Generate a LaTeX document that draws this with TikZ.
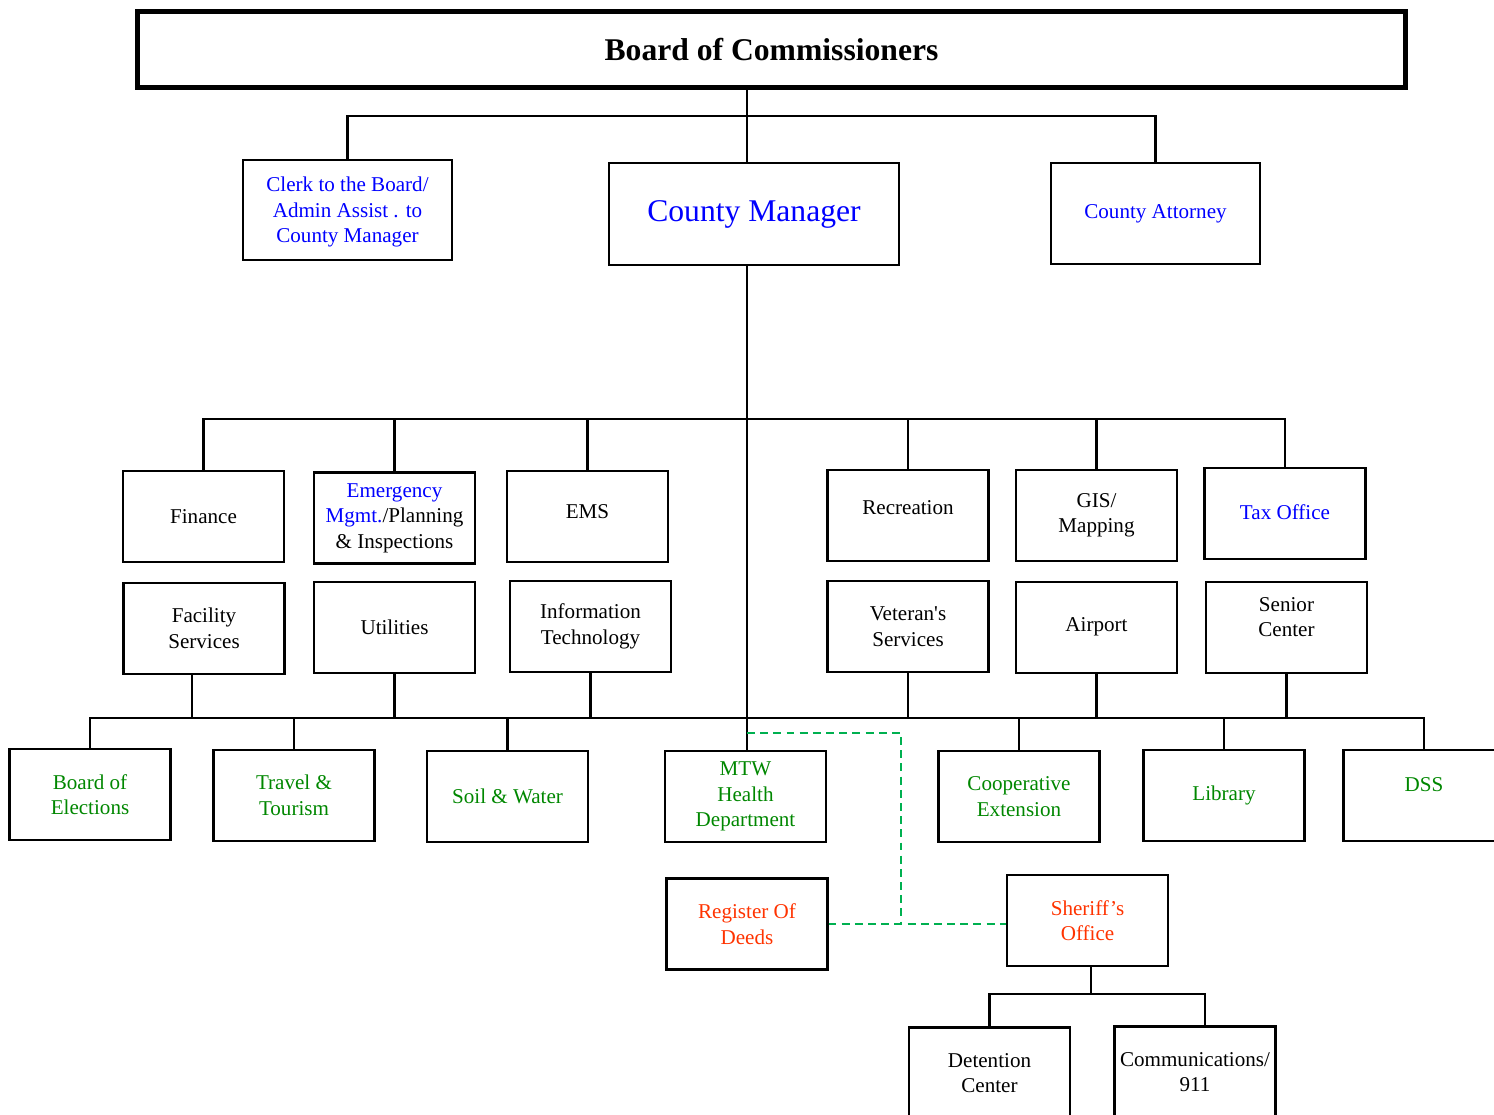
\documentclass[tikz,border=0pt]{standalone}
\usepackage{fontspec}
\setmainfont{Liberation Serif}
\usetikzlibrary{positioning}
\definecolor{cblue}{RGB}{0,0,255}
\definecolor{cgreen}{RGB}{0,135,0}
\definecolor{cred}{RGB}{255,51,0}
\definecolor{dgreen}{RGB}{0,176,80}

\begin{document}
\begin{tikzpicture}[
    x=0.02cm, y=-0.02cm,
    unit/.style={draw, line width=1.2pt, minimum width=3.22cm, minimum height=1.82cm, inner sep=1pt, align=center, font=\fontsize{12pt}{14.5pt}\selectfont},
    lift/.style={text depth=#1},
    link/.style={line width=1.2pt},
    tie/.style={line width=1.2pt, dgreen, dash pattern=on 4.5pt off 3pt}
]
\useasboundingbox (0,0) rectangle (1494,1115);

% top level
\node[unit, line width=2.8pt, minimum width=25.36cm, minimum height=1.52cm, font=\fontsize{18pt}{20pt}\selectfont\bfseries] (board) at (771.5,49.5) {Board of Commissioners};
\node[unit, minimum width=4.18cm, minimum height=2cm, text=cblue, text depth=0pt] (clerk) at (347.5,210) {Clerk to the Board/\\Admin Assist . to\\County Manager};
\node[unit, minimum width=5.8cm, minimum height=2.04cm, text=cblue, font=\fontsize{18pt}{21pt}\selectfont] (cm) at (754,214) {County Manager};
\node[unit, minimum width=4.18cm, minimum height=2.02cm, text=cblue] (atty) at (1155.5,213.5) {County Attorney};

% departments, first row
\node[unit] (fin) at (203.5,516.5) {Finance};
\node[unit] (emg) at (394.5,518) {\textcolor{cblue}{Emergency}\\\textcolor{cblue}{Mgmt.}/Planning\\\& Inspections};
\node[unit, lift=6pt] (ems) at (587.5,516.5) {EMS};
\node[unit, lift=9pt] (rec) at (908,515.5) {Recreation};
\node[unit] (gis) at (1096.5,515.5) {GIS/\\Mapping};
\node[unit, text=cblue, lift=2pt] (tax) at (1285,513.5) {Tax Office};

% departments, second row
\node[unit] (fac) at (204,628.5) {Facility\\Services};
\node[unit] (util) at (394.5,627.5) {Utilities};
\node[unit] (it) at (590.5,626.5) {Information\\Technology};
\node[unit] (vet) at (908,626.5) {Veteran\textquotesingle s\\Services};
\node[unit, lift=3pt] (air) at (1096.5,627.5) {Airport};
\node[unit, lift=12pt] (sen) at (1286.5,627.5) {Senior\\Center};

% boards and agencies
\node[unit, text=cgreen] (boe) at (90,794.5) {Board of\\Elections};
\node[unit, text=cgreen] (trav) at (294,795.5) {Travel \&\\Tourism};
\node[unit, text=cgreen] (soil) at (507.5,796.5) {Soil \& Water};
\node[unit, text=cgreen] (mtw) at (745.5,796.5) {MTW\\Health\\Department};
\node[unit, text=cgreen] (coop) at (1019,796.5) {Cooperative\\Extension};
\node[unit, text=cgreen] (lib) at (1224,795.5) {Library};
\node[unit, text=cgreen, lift=12pt] (dss) at (1424,795.5) {DSS};

% elected offices
\node[unit, text=cred] (reg) at (747,924) {Register Of\\Deeds};
\node[unit, text=cred] (sher) at (1087.5,920.5) {Sheriff’s\\Office};
\node[unit] (det) at (989.5,1073) {Detention\\Center};
\node[unit] (comm) at (1195,1072) {Communications/\\911};

% junctions
\coordinate (j1) at (747,116);
\coordinate (b1) at (747,419);
\coordinate (b2) at (747,718);
\coordinate (d1) at (901,733);
\coordinate (b3) at (1091,994);

% lines
\draw[link] (board.south -| j1) -- (j1);
\draw[link] (clerk.north) |- (j1) -| (atty.north);
\draw[link] (j1) -- (cm.north -| j1);
\draw[link] (cm.south -| j1) -- (mtw.north -| j1);
\draw[link] (fin.north) |- (b1) -| (tax.north);
\foreach \n in {emg,ems,rec,gis}
  \draw[link] (\n.north) -- (\n.north |- b1);
\draw[link] (boe.north) |- (b2) -| (dss.north);
\draw[link] ([xshift=-0.24cm]fac.south) -- ([xshift=-0.24cm]fac.south |- b2);
\foreach \n in {util,it,vet,air,sen}
  \draw[link] (\n.south) -- (\n.south |- b2);
\foreach \n in {trav,soil,coop,lib}
  \draw[link] (\n.north) -- (\n.north |- b2);
\draw[link] (sher.south -| b3) -- (b3);
\draw[link] (det.north) |- (b3) -| ([xshift=0.2cm]comm.north);

% dotted-line ties
\draw[tie] (d1 -| j1) -- (d1) -- (d1 |- reg.east);
\draw[tie] (reg.east) -- (reg.east -| sher.west);
\end{tikzpicture}
\end{document}
